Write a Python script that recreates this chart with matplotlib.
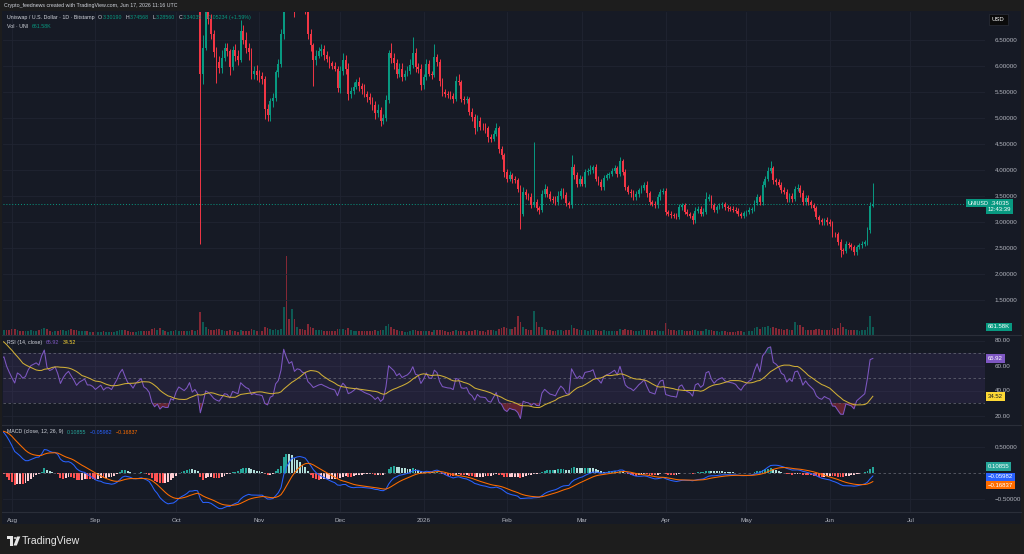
import numpy as np
import pandas as pd
import matplotlib
matplotlib.use("Agg")
import matplotlib.pyplot as plt
from matplotlib.patches import Rectangle, Circle, Polygon
from matplotlib.lines import Line2D
import matplotlib.transforms as mtrans
from matplotlib.colors import to_rgba

plt.rcParams['font.family'] = ['Liberation Sans', 'DejaVu Sans']

# ------------------------------------------------------------------ data
ref_date = "2025-08-01"          # x origin of the day axis

close_start = "2025-07-01"
closes = [
    # Jul 2025
    6.9, 7.3, 7.5, 7.3, 7.3, 7.4, 7.6, 7.7, 8.0, 8.4, 8.6, 8.5, 8.9, 9.1, 8.9, 9.8,
    9.9, 9.7, 10.0, 10.6, 10.9, 10.9, 10.2, 10.4, 10.6, 10.8, 11.0, 10.5, 10.6, 10.2, 9.9,
    # Aug
    9.6, 9.3, 9.9, 9.8, 9.6, 9.7, 10.1, 10.4, 10.5, 10.6, 10.5, 11.2, 11.8, 10.9, 10.7, 10.8,
    11.0, 10.6, 9.9, 10.3, 10.6, 10.8, 10.5, 10.2, 9.8, 10.0, 10.1, 10.2, 9.8, 9.8, 9.7,
    # Sep
    9.5, 9.6, 9.7, 9.4, 9.5, 9.5, 9.4, 9.6, 9.8, 10.1, 10.3, 10.0, 9.7, 9.6, 9.4,
    9.6, 9.7, 9.8, 9.4, 9.3, 9.1, 8.4, 8.0, 8.1, 7.6, 7.7, 7.6, 7.6, 7.9, 7.8,
    # Oct
    8.1, 8.3, 8.2, 8.1, 8.2, 8.4, 7.9, 8.0, 7.75, 5.85, 6.35, 7.05, 6.9, 6.62, 6.27, 6.08,
    5.96, 6.15, 6.35, 6.28, 5.98, 6.3, 6.2, 6.12, 6.68, 6.5, 6.35, 6.27, 5.85, 5.9, 5.82,
    # Nov
    5.8, 5.75, 5.17, 5.05, 5.33, 5.38, 5.88, 6.04, 6.62, 8.7, 8.2, 7.8, 8.0, 7.3, 7.55,
    7.5, 7.3, 7.25, 6.62, 6.4, 6.12, 6.2, 6.28, 6.32, 6.22, 6.14, 6.05, 6.0, 5.95, 5.58,
    # Dec
    5.9, 6.12, 5.95, 5.47, 5.52, 5.6, 5.7, 5.62, 5.55, 5.46, 5.4, 5.35, 5.25, 5.1, 5.16, 4.94,
    5.0, 5.34, 6.25, 6.15, 6.05, 5.85, 5.95, 5.79, 5.85, 5.9, 6.01, 6.24, 5.98, 5.95, 5.63,
    # Jan 2026
    5.79, 6.04, 5.85, 5.83, 6.17, 6.08, 5.72, 5.5, 5.47, 5.44, 5.43, 5.37, 5.72, 5.69, 5.36, 5.34,
    5.36, 5.12, 5.02, 4.8, 4.95, 4.83, 4.82, 4.8, 4.64, 4.6, 4.7, 4.8, 4.41, 4.28, 3.96,
    # Feb
    3.83, 3.9, 3.83, 3.8, 3.64, 3.16, 3.58, 3.51, 3.48, 3.33, 3.38, 3.26, 3.24, 3.54,
    3.64, 3.54, 3.45, 3.42, 3.38, 3.5, 3.6, 3.52, 3.36, 3.32, 4.06, 3.9, 3.74, 3.83,
    # Mar
    3.74, 3.96, 3.98, 4.0, 4.05, 3.83, 3.77, 3.67, 3.85, 3.9, 3.93, 3.98, 4.03, 3.93, 4.17, 3.96,
    3.67, 3.58, 3.55, 3.48, 3.54, 3.61, 3.66, 3.72, 3.55, 3.38, 3.35, 3.32, 3.48, 3.58, 3.6,
    # Apr
    3.19, 3.16, 3.13, 3.12, 3.1, 3.29, 3.32, 3.2, 3.15, 3.12, 3.03, 3.22, 3.25, 3.16, 3.2,
    3.45, 3.48, 3.32, 3.23, 3.29, 3.32, 3.34, 3.28, 3.26, 3.25, 3.24, 3.22, 3.16, 3.12, 3.17,
    # May
    3.2, 3.23, 3.25, 3.37, 3.48, 3.38, 3.72, 3.83, 3.99, 4.03, 3.8, 3.77, 3.72, 3.61, 3.58, 3.44,
    3.5, 3.45, 3.64, 3.66, 3.55, 3.38, 3.46, 3.38, 3.32, 3.26, 3.1, 3.03, 3.0, 3.04, 3.0,
    # Jun
    2.97, 2.77, 2.76, 2.62, 2.46, 2.45, 2.58, 2.55, 2.52, 2.42, 2.52, 2.55, 2.58, 2.61, 2.84,
    3.3019, 3.34035,
]

candle_start = "2025-10-01"
wick_up = [
    # Oct
    0.2, 0.2, 0.2, 0.2, 0.2, 0.2, 0.3, 0.2, 0.2, 0.05, 0.25, 0.25, 0.3, 0.1, 0.08, 0.1,
    0.12, 0.15, 0.1, 0.1, 0.05, 0.08, 0.12, 0.1, 0.2, 0.1, 0.15, 0.1, 0.08, 0.1, 0.12,
    # Nov
    0.1, 0.08, 0.05, 0.1, 0.05, 0.1, 0.05, 0.1, 0.1, 0.9, 0.3, 0.2, 0.2, 0.2, 0.15,
    0.2, 0.15, 0.15, 0.1, 0.1, 0.05, 0.1, 0.08, 0.1, 0.08, 0.06, 0.06, 0.05, 0.08, 0.05,
    # Dec
    0.1, 0.12, 0.1, 0.1, 0.08, 0.1, 0.05, 0.08, 0.06, 0.1, 0.05, 0.08, 0.06, 0.08, 0.1, 0.05,
    0.08, 0.1, 0.05, 0.2, 0.1, 0.08, 0.1, 0.1, 0.08, 0.1, 0.12, 0.32, 0.1, 0.08, 0.08,
    # Jan
    0.05, 0.1, 0.08, 0.05, 0.26, 0.06, 0.05, 0.05, 0.06, 0.05, 0.08, 0.05, 0.08, 0.13, 0.05, 0.06,
    0.06, 0.05, 0.08, 0.05, 0.1, 0.06, 0.08, 0.08, 0.05, 0.06, 0.06, 0.1, 0.05, 0.06, 0.05,
    # Feb
    0.05, 0.08, 0.05, 0.06, 0.05, 0.08, 0.1, 0.06, 0.05, 0.08, 1.16, 0.06, 0.05, 0.08,
    0.1, 0.05, 0.06, 0.05, 0.08, 0.1, 0.05, 0.06, 0.05, 0.05, 0.22, 0.05, 0.06, 0.08,
    # Mar
    0.06, 0.05, 0.05, 0.1, 0.05, 0.06, 0.05, 0.06, 0.05, 0.05, 0.04, 0.05, 0.06, 0.05, 0.08, 0.05,
    0.06, 0.05, 0.05, 0.06, 0.05, 0.05, 0.06, 0.05, 0.06, 0.05, 0.04, 0.05, 0.05, 0.06, 0.05,
    # Apr
    0.05, 0.04, 0.05, 0.04, 0.05, 0.06, 0.05, 0.04, 0.05, 0.04, 0.05, 0.06, 0.05, 0.05, 0.06,
    0.12, 0.05, 0.04, 0.05, 0.04, 0.05, 0.04, 0.05, 0.04, 0.04, 0.05, 0.04, 0.05, 0.04, 0.05,
    # May
    0.04, 0.05, 0.04, 0.05, 0.05, 0.04, 0.06, 0.05, 0.06, 0.14, 0.05, 0.05, 0.06, 0.05, 0.06, 0.05,
    0.05, 0.05, 0.06, 0.08, 0.05, 0.06, 0.05, 0.05, 0.04, 0.05, 0.05, 0.04, 0.05, 0.04, 0.05,
    # Jun
    0.05, 0.05, 0.04, 0.05, 0.05, 0.04, 0.05, 0.04, 0.05, 0.04, 0.04, 0.04, 0.05, 0.04, 0.06,
    0.08, 0.40533,
]
wick_dn = [
    # Oct
    0.2, 0.2, 0.2, 0.2, 0.2, 0.2, 0.2, 0.2, 0.2, 3.27, 0.2, 0.05, 0.1, 0.1, 0.1, 0.4,
    0.1, 0.1, 0.05, 0.08, 0.15, 0.05, 0.1, 0.1, 0.05, 0.08, 0.1, 0.15, 0.1, 0.1, 0.08,
    # Nov
    0.1, 0.1, 0.19, 0.1, 0.1, 0.12, 0.05, 0.1, 0.05, 0.1, 0.3, 0.3, 0.25, 0.35, 0.2,
    0.2, 0.25, 0.25, 0.1, 0.12, 0.5, 0.1, 0.05, 0.08, 0.1, 0.06, 0.08, 0.06, 0.05, 0.08,
    # Dec
    0.1, 0.08, 0.1, 0.12, 0.08, 0.06, 0.05, 0.1, 0.08, 0.06, 0.1, 0.08, 0.1, 0.12, 0.08, 0.1,
    0.06, 0.05, 0.05, 0.1, 0.1, 0.08, 0.06, 0.08, 0.05, 0.05, 0.05, 0.05, 0.1, 0.08, 0.1,
    # Jan
    0.08, 0.06, 0.05, 0.08, 0.05, 0.08, 0.1, 0.08, 0.06, 0.05, 0.06, 0.08, 0.05, 0.05, 0.06, 0.08,
    0.05, 0.06, 0.08, 0.1, 0.05, 0.06, 0.05, 0.08, 0.1, 0.06, 0.05, 0.05, 0.08, 0.06, 0.1,
    # Feb
    0.06, 0.05, 0.08, 0.05, 0.06, 0.29, 0.05, 0.06, 0.05, 0.06, 0.05, 0.05, 0.08, 0.05,
    0.06, 0.05, 0.05, 0.06, 0.05, 0.05, 0.06, 0.05, 0.06, 0.05, 0.05, 0.08, 0.06, 0.05,
    # Mar
    0.05, 0.06, 0.05, 0.05, 0.06, 0.05, 0.06, 0.05, 0.06, 0.05, 0.05, 0.05, 0.04, 0.06, 0.05, 0.06,
    0.05, 0.05, 0.06, 0.05, 0.05, 0.06, 0.05, 0.05, 0.06, 0.05, 0.05, 0.06, 0.05, 0.05, 0.05,
    # Apr
    0.05, 0.04, 0.06, 0.04, 0.05, 0.04, 0.05, 0.05, 0.04, 0.05, 0.06, 0.04, 0.05, 0.04, 0.05,
    0.05, 0.04, 0.05, 0.04, 0.05, 0.04, 0.05, 0.04, 0.05, 0.04, 0.05, 0.05, 0.04, 0.05, 0.04,
    # May
    0.05, 0.04, 0.05, 0.04, 0.05, 0.06, 0.05, 0.04, 0.05, 0.05, 0.06, 0.05, 0.05, 0.06, 0.05, 0.05,
    0.05, 0.06, 0.05, 0.05, 0.06, 0.05, 0.05, 0.05, 0.06, 0.05, 0.05, 0.06, 0.05, 0.05, 0.06,
    # Jun
    0.05, 0.06, 0.05, 0.06, 0.13, 0.06, 0.05, 0.05, 0.06, 0.05, 0.05, 0.04, 0.05, 0.04, 0.05,
    0.06, 0.0163,
]

volume_start = "2025-07-29"
volumes_k = [
    420, 380, 450,
    # Aug
    520, 480, 390, 300, 350, 290, 330, 410, 360, 300, 380, 520, 610, 480, 350, 280,
    300, 340, 450, 380, 360, 410, 500, 420, 390, 310, 290, 300, 360, 250, 230,
    # Sep
    300, 280, 260, 300, 270, 220, 240, 280, 330, 420, 450, 380, 300, 260, 240,
    280, 300, 320, 360, 290, 310, 520, 560, 420, 600, 430, 330, 280, 350, 300,
    # Oct
    380, 340, 300, 310, 290, 330, 420, 360, 380, 1900, 1050, 650, 480, 420, 450, 520,
    480, 380, 300, 350, 380, 330, 300, 280, 420, 360, 330, 300, 460, 380, 330,
    # Nov
    300, 320, 620, 560, 480, 420, 460, 420, 520, 2300, 6500, 1300, 2150, 1300, 650,
    520, 480, 430, 900, 650, 560, 420, 380, 400, 360, 330, 300, 290, 310, 480,
    # Dec
    520, 480, 430, 560, 400, 330, 300, 320, 340, 350, 310, 300, 330, 380, 350, 420,
    380, 760, 880, 700, 500, 380, 330, 300, 260, 280, 300, 420, 380, 330, 360,
    # Jan
    300, 330, 310, 280, 430, 380, 400, 420, 330, 280, 260, 300, 420, 330, 350, 300,
    280, 330, 360, 420, 380, 310, 300, 280, 400, 430, 380, 340, 500, 560, 700,
    # Feb
    600, 480, 520, 650, 1600, 1100, 700, 500, 420, 450, 2000, 1100, 700, 650,
    500, 400, 380, 360, 330, 400, 430, 350, 380, 400, 850, 560, 480, 400,
    # Mar
    380, 420, 360, 400, 380, 420, 350, 330, 400, 360, 330, 300, 350, 320, 460, 420,
    500, 430, 380, 350, 330, 350, 380, 400, 420, 450, 360, 340, 380, 350, 330,
    # Apr
    950, 500, 420, 380, 350, 430, 380, 360, 330, 300, 420, 400, 350, 330, 300,
    480, 400, 380, 360, 300, 280, 300, 290, 280, 270, 260, 280, 300, 330, 280,
    # May
    300, 320, 330, 560, 620, 500, 700, 640, 780, 600, 700, 560, 500, 480, 450, 500,
    420, 400, 1100, 850, 800, 700, 450, 400, 380, 420, 500, 460, 420, 380, 400,
    # Jun
    450, 550, 480, 600, 1000, 700, 500, 420, 380, 400, 380, 360, 400, 420, 700, 1550, 661.58,
]

month_labels = ["Aug", "Sep", "Oct", "Nov", "Dec", "2026", "Feb", "Mar", "Apr", "May", "Jun", "Jul"]
month_dates = ["2025-08-01", "2025-09-01", "2025-10-01", "2025-11-01", "2025-12-01", "2026-01-01",
               "2026-02-01", "2026-03-01", "2026-04-01", "2026-05-01", "2026-06-01", "2026-07-01"]
price_ticks = [1.5, 2.0, 2.5, 3.0, 3.5, 4.0, 4.5, 5.0, 5.5, 6.0, 6.5]
rsi_ticks = [20, 40, 60, 80]
macd_ticks = [-0.5, 0.5]

title_text = "Crypto_feednews created with TradingView.com, Jun 17, 2026 11:16 UTC"
symbol_text = "Uniswap / U.S. Dollar · 1D · Bitstamp"
ohlc_text = [("O", "3.30190"), ("H", "3.74568"), ("L", "3.28560"), ("C", "3.34035")]
change_text = "+0.05234 (+1.59%)"
vol_value_text = "661.58K"
rsi_values_text = ["65.92", "34.52"]
macd_values_text = ["0.10855", "\u22120.05982", "\u22120.16837"]
countdown_text = "12:43:39"

# ------------------------------------------------------------------ style
BG = "#161a25"
FRAME = "#1d1d1d"
GRID = "#202431"
SEP = "#2a2e39"
TXT = "#b2b5be"
HDR = "#d1d4dc"
UP = "#089981"
DN = "#f23645"
RSI_C = "#7e57c2"
RSI_MA_C = "#cfae36"
MACD_C = "#2962ff"
SIG_C = "#ff6d00"

W, H = 1024, 554
def fx(px): return px / W
def fy(py): return 1 - py / H

ref = np.datetime64(ref_date)
def days(start, n):
    return (np.datetime64(start) - ref).astype(int) + np.arange(n)

# ------------------------------------------------------------------ indicators
c = np.asarray(closes, float)
xc = days(close_start, len(c))
s = pd.Series(c)
delta = s.diff().fillna(0.0)
gain = delta.clip(lower=0)
loss = (-delta).clip(lower=0)
avg_g = gain.ewm(alpha=1 / 14, adjust=False).mean()
avg_l = loss.ewm(alpha=1 / 14, adjust=False).mean()
rsi = (100 - 100 / (1 + avg_g / avg_l)).to_numpy()
rsi_ma = pd.Series(rsi).rolling(14).mean().to_numpy()
ema12 = s.ewm(span=12, adjust=False).mean()
ema26 = s.ewm(span=26, adjust=False).mean()
macd = (ema12 - ema26)
sig = macd.ewm(span=9, adjust=False).mean()
hist = (macd - sig).to_numpy()
macd = macd.to_numpy()
sig = sig.to_numpy()

# ------------------------------------------------------------------ figure
fig = plt.figure(figsize=(W / 100, H / 100), dpi=100, facecolor=FRAME)
fig.patches.append(Rectangle((fx(2), fy(524)), fx(1019), (524 - 11) / H,
                             transform=fig.transFigure, facecolor=BG, edgecolor="none", zorder=-5))

L, R = 3, 985
ax_p = fig.add_axes([fx(L), fy(335), fx(R - L), (335 - 12) / H])
ax_v = ax_p.twinx()
ax_r = fig.add_axes([fx(L), fy(425), fx(R - L), (425 - 335) / H])
ax_m = fig.add_axes([fx(L), fy(512), fx(R - L), (512 - 425) / H])

xlim = (-3.35, 361.7)
month_x = [(np.datetime64(d) - ref).astype(int) for d in month_dates]
for ax in (ax_p, ax_v, ax_r, ax_m):
    ax.set_xlim(*xlim)
    for sp in ax.spines.values():
        sp.set_visible(False)
for ax in (ax_p, ax_r, ax_m):
    ax.set_facecolor("none")
    ax.set_xticks(month_x)
    ax.grid(True, color=GRID, lw=0.6)
    ax.set_axisbelow(True)
    ax.tick_params(axis="x", length=0, labelbottom=False)
    ax.yaxis.tick_right()
    ax.tick_params(axis="y", length=0, pad=7, labelsize=4.5, labelcolor=TXT)
ax_m.tick_params(axis="x", labelbottom=True, pad=4, labelsize=4.5, labelcolor=TXT)
ax_m.set_xticklabels(month_labels)

# ---- price pane
ax_p.set_ylim(0.827, 7.038)
ax_p.set_yticks(price_ticks)
ax_p.set_yticklabels([f"{v:.5f}" for v in price_ticks])
ax_p.set_zorder(ax_v.get_zorder() + 1)

k0 = int((np.datetime64(candle_start) - np.datetime64(close_start)).astype(int))
cl = c[k0:]
op = c[k0 - 1:-1]
xk = xc[k0:]
hi = np.maximum(op, cl) + np.asarray(wick_up)
lo = np.minimum(op, cl) - np.asarray(wick_dn)
col = np.where(cl >= op, UP, DN)
ax_p.vlines(xk, lo, hi, colors=col, lw=0.7, zorder=3)
ax_p.bar(xk, np.maximum(np.abs(cl - op), 0.012), bottom=np.minimum(op, cl),
         width=0.66, color=col, lw=0, zorder=4)
ax_p.axhline(c[-1], color=UP, lw=0.7, ls=(0, (1, 2)), zorder=2)

# ---- volume
vol = np.asarray(volumes_k, float)
xv = days(volume_start, len(vol))
kv = int((np.datetime64(volume_start) - np.datetime64(close_start)).astype(int))
vup = c[kv:kv + len(vol)] >= c[kv - 1:kv - 1 + len(vol)]
vcol = [to_rgba(UP, 0.5) if u else to_rgba(DN, 0.5) for u in vup]
ax_v.bar(xv, vol, width=0.64, color=vcol, lw=0)
ax_v.set_ylim(0, vol.max() * 4.1)
ax_v.set_yticks([])
ax_v.tick_params(axis="x", length=0, labelbottom=False)

# ---- RSI pane
ax_r.set_ylim(12.4, 84.4)
ax_r.set_yticks(rsi_ticks)
ax_r.set_yticklabels([f"{v:.2f}" for v in rsi_ticks])
ax_r.axhspan(30, 70, color=RSI_C, alpha=0.12, lw=0)
for lvl in (70, 50, 30):
    ax_r.axhline(lvl, color="#787b86", lw=0.6, ls=(0, (3, 3)), alpha=0.7)
ax_r.fill_between(xc, rsi, 30, where=rsi < 30, interpolate=True, color=DN, alpha=0.35, lw=0)
ax_r.fill_between(xc, rsi, 70, where=rsi > 70, interpolate=True, color=UP, alpha=0.30, lw=0)
ax_r.plot(xc, rsi, color=RSI_C, lw=0.75)
ax_r.plot(xc, rsi_ma, color=RSI_MA_C, lw=0.75)

# ---- MACD pane
ax_m.set_ylim(-0.75, 0.923)
ax_m.set_yticks(macd_ticks)
ax_m.set_yticklabels(["\u22120.50000", "0.50000"])
prev_h = np.concatenate([[hist[0]], hist[:-1]])
hcol = np.where(hist >= 0, np.where(hist >= prev_h, "#26a69a", "#b2dfdb"),
                np.where(hist < prev_h, "#ff5252", "#ffcdd2"))
ax_m.axhline(0, color="#787b86", lw=0.6, ls=(0, (3, 3)), alpha=0.7)
ax_m.bar(xc, hist, width=0.7, color=hcol, lw=0)
ax_m.plot(xc, macd, color=MACD_C, lw=0.75)
ax_m.plot(xc, sig, color=SIG_C, lw=0.75)

# ---- separators
for ypx in (335, 425, 512):
    fig.add_artist(Line2D([fx(2), fx(1021)], [fy(ypx), fy(ypx)], color=SEP, lw=0.8,
                          transform=fig.transFigure))

# ---- right-side value tags
def tag(ax, y, text, fc, tc="white", xpx=988, dy=0, size=4.3):
    tr = mtrans.blended_transform_factory(fig.transFigure, ax.transData)
    ax.annotate(text, xy=(fx(xpx), y), xycoords=tr, xytext=(0, dy), textcoords="offset points",
                ha="left", va="center", fontsize=size, color=tc, annotation_clip=False,
                linespacing=1.3, zorder=20,
                bbox=dict(boxstyle="square,pad=0.3", fc=fc, ec="none"))

tag(ax_p, c[-1], f"{c[-1]:.5f}\n{countdown_text}", UP, dy=-1.6)
tag(ax_p, c[-1], "UNIUSD", UP, xpx=968, size=4.0, dy=0.8)
tag(ax_v, vol[-1], vol_value_text, UP)
tag(ax_r, rsi[-1], rsi_values_text[0], RSI_C)
tag(ax_r, rsi_ma[-1], rsi_values_text[1], "#fdd835", tc="#131722")
tag(ax_m, hist[-1], macd_values_text[0], "#26a69a", dy=0.5)
tag(ax_m, macd[-1], macd_values_text[1], MACD_C, dy=-0.6)
tag(ax_m, sig[-1], macd_values_text[2], SIG_C, dy=-2.6)
fig.text(fx(992), fy(19.5), "USD", fontsize=4.3, color="white", ha="left", va="center",
         bbox=dict(boxstyle="square,pad=0.55", fc="#0b0b0b", ec="#2a2e39", lw=0.5))

# ---- header texts (chained, drawn above the candles)
def chain(first, first_color, parts, xpx, ypx, size):
    t = fig.text(fx(xpx), fy(ypx), first, color=first_color, fontsize=size, ha="left", va="center")
    prev = t
    for txt, colr, gap in parts:
        prev = ax_p.annotate(txt, xy=(1, 0.5), xycoords=prev, xytext=(gap, 0),
                             textcoords="offset points", ha="left", va="center",
                             color=colr, fontsize=size, annotation_clip=False, zorder=20)
    return t

fig.text(fx(4), fy(5.5), title_text, color=HDR, fontsize=3.75, ha="left", va="center")
parts = []
for i, (k, v) in enumerate(ohlc_text):
    parts.append((k, HDR, 2.6 if i == 0 else 2.4))
    parts.append((v, UP, 0.4))
parts.append((change_text, UP, 2.4))
chain(symbol_text, HDR, parts, 7, 17.5, 3.8)
chain("Vol · UNI", HDR, [(vol_value_text, UP, 2.5)], 7, 26, 3.8)
chain("RSI (14, close)", HDR, [(rsi_values_text[0], RSI_C, 2.5), (rsi_values_text[1], "#fdd835", 2.5)],
      7, 342.5, 3.8)
chain("MACD (close, 12, 26, 9)", HDR, [(macd_values_text[0], "#26a69a", 2.5),
                                       (macd_values_text[1], MACD_C, 2.5),
                                       (macd_values_text[2], SIG_C, 2.5)], 7, 432, 3.8)

# ---- footer logo
logo_c = "#e6e6e6"
fig.patches.append(Rectangle((fx(7), fy(539)), fx(5.5), 2.6 / H, transform=fig.transFigure,
                             fc=logo_c, ec="none"))
fig.patches.append(Rectangle((fx(9.6), fy(545.5)), fx(2.9), 9 / H, transform=fig.transFigure,
                             fc=logo_c, ec="none"))
fig.patches.append(Circle((fx(15.2), fy(538)), 1.5 / W, transform=fig.transFigure,
                          fc=logo_c, ec="none"))
fig.patches.append(Polygon([(fx(17), fy(536.5)), (fx(20.3), fy(536.5)), (fx(16.8), fy(545.5)),
                            (fx(13.5), fy(545.5))], closed=True, transform=fig.transFigure,
                           fc=logo_c, ec="none"))
fig.text(fx(22), fy(541), "TradingView", color=logo_c, fontsize=7.6, ha="left", va="center")

fig.savefig("out.png", dpi=100, facecolor=FRAME)
